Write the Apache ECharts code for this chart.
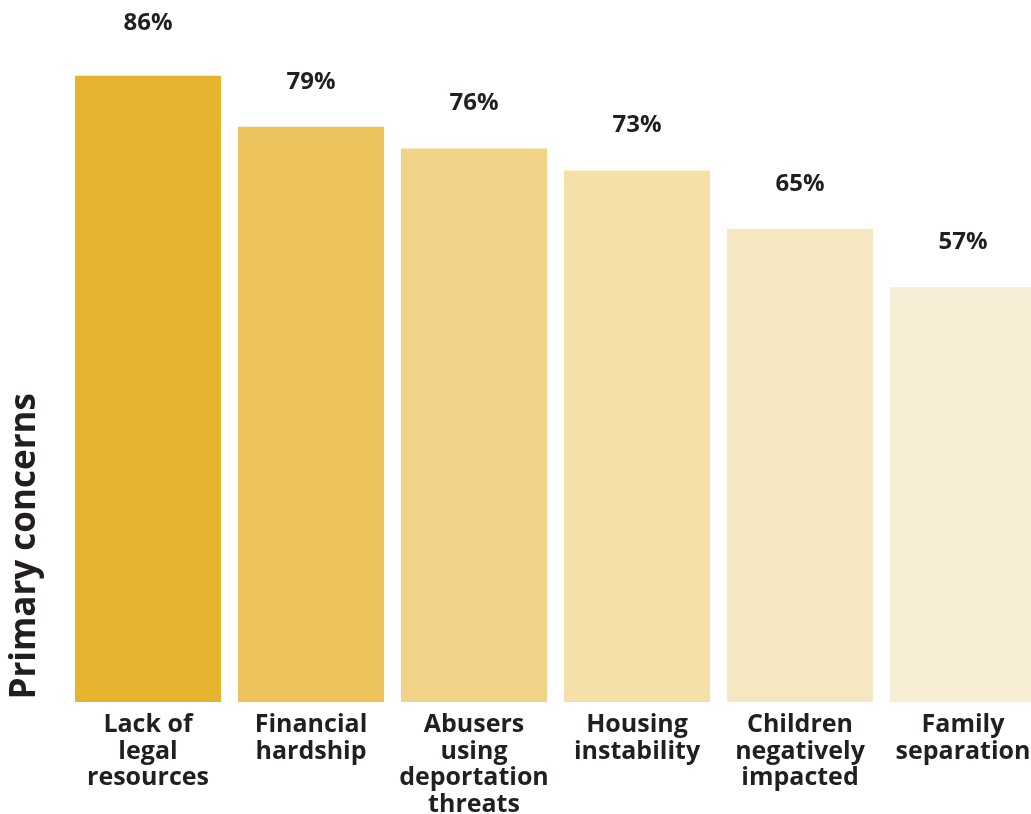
<!DOCTYPE html>
<html>
<head>
<meta charset="utf-8">
<script src="https://cdn.jsdelivr.net/npm/echarts@6/dist/echarts.min.js"></script>
<style>
html,body{margin:0;padding:0;background:#fff;}
#main{width:1031px;height:814px;}
</style>
</head>
<body>
<div id="main"></div>
<script>
const categories = ["Lack of\nlegal\nresources", "Financial\nhardship", "Abusers\nusing\ndeportation\nthreats", "Housing\ninstability", "Children\nnegatively\nimpacted", "Family\nseparation"];
const values = [86, 79, 76, 73, 65, 57];
const barColors = ["#E6B42E", "#EBC35A", "#F0D386", "#F4E0A8", "#F5E7C1", "#F8EED6"];
const axisTitle = "Primary concerns";

const FONT = "'Open Sans', sans-serif";
const chart = echarts.init(document.getElementById('main'));
chart.setOption({
  animation: false,
  grid: {left: 66.5, width: 978, top: 0, height: 702, containLabel: false, outerBoundsMode: 'none'},
  xAxis: {
    type: 'category',
    data: categories,
    axisLine: {show: false},
    axisTick: {show: false},
    axisLabel: {
      interval: 0,
      color: '#231F20',
      fontFamily: FONT,
      fontWeight: 'bold',
      fontSize: 25,
      lineHeight: 26.5,
      margin: 10
    }
  },
  yAxis: {
    type: 'value',
    min: 0,
    max: 96.4,
    show: false
  },
  graphic: [{
    type: 'text',
    left: 8,
    top: 393,
    rotation: Math.PI / 2,
    style: {
      text: axisTitle,
      fill: '#231F20',
      font: "bold 35px 'Open Sans', sans-serif"
    }
  }],
  series: [{
    type: 'bar',
    barCategoryGap: '10.4%',
    data: values.map((v, i) => ({
      value: v,
      itemStyle: {color: barColors[i]},
      label: i === 0 ? {distance: 41} : undefined
    })),
    label: {
      show: true,
      position: 'top',
      distance: 33,
      formatter: '{c}%',
      color: '#231F20',
      fontFamily: FONT,
      fontWeight: 'bold',
      fontSize: 24
    }
  }]
});
</script>
</body>
</html>
